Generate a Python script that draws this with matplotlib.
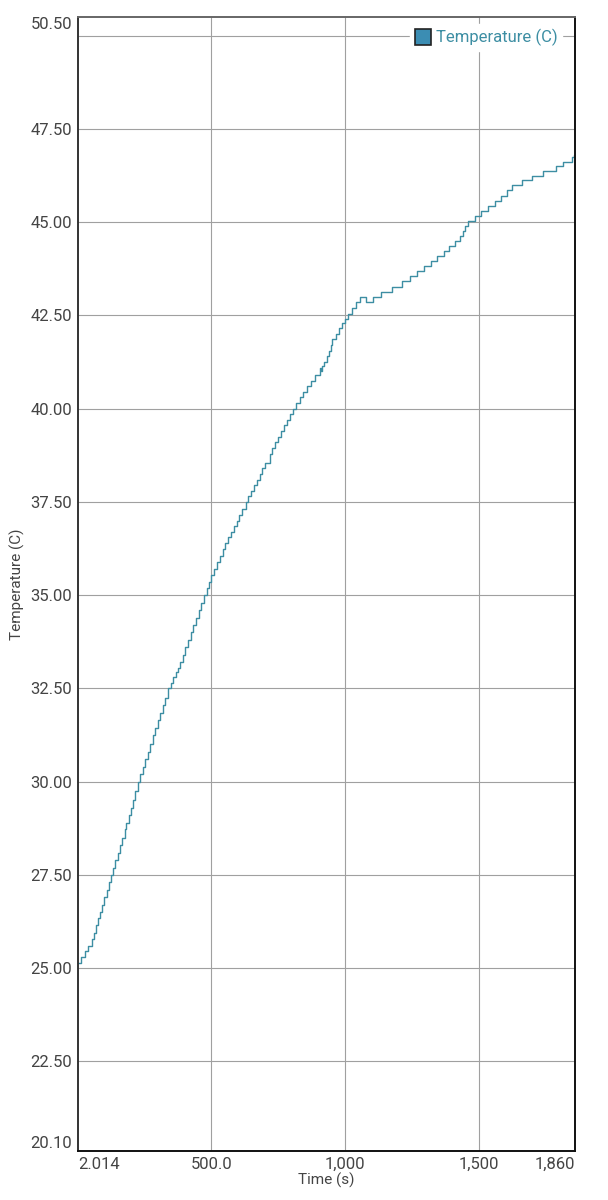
import matplotlib
matplotlib.use("Agg")
import matplotlib.pyplot as plt
from matplotlib.lines import Line2D

plt.rcParams["font.family"] = ["Roboto", "DejaVu Sans"]

# step readings (time s, temperature C)
time_s = [2, 14, 27, 40, 54, 61, 69, 78, 84, 92, 100, 109, 117, 125,
          133, 142, 150, 159, 167, 177, 183, 191, 199, 207, 216, 226,
          235, 244, 252, 262, 271, 282, 291, 300, 309, 318, 327, 338,
          348, 357, 367, 374, 383, 393, 403, 413, 423, 433, 443, 453, 462, 472,
          483, 491, 500, 510, 520, 532, 543, 553, 564, 574, 584, 595, 605, 615, 629,
          639, 650, 660, 670, 681, 691, 701, 718, 729, 740, 750, 761, 772, 783, 793, 804,
          818, 832, 845, 859, 873, 887, 905, 910, 915, 923, 932, 941, 947, 953,
          965, 977, 990, 1000, 1012, 1025, 1040, 1055, 1078, 1105, 1135, 1175, 1215,
          1245, 1270, 1295, 1320, 1345, 1370, 1390, 1410, 1430, 1440, 1450, 1460, 1485,
          1510, 1535, 1560, 1585, 1605, 1625, 1660, 1700, 1740, 1790, 1815, 1850, 1858, 1860]
temp_c = [25.15, 25.3, 25.45, 25.6, 25.77, 25.95, 26.15, 26.35, 26.5, 26.7, 26.9, 27.1, 27.3, 27.5,
          27.7, 27.9, 28.1, 28.3, 28.5, 28.73, 28.9, 29.1, 29.3, 29.5, 29.75, 30.0,
          30.2, 30.4, 30.6, 30.8, 31.0, 31.25, 31.45, 31.65, 31.85, 32.05, 32.25, 32.5,
          32.65, 32.8, 32.95, 33.05, 33.2, 33.4, 33.6, 33.8, 34.0, 34.2, 34.4, 34.6, 34.8, 35.0,
          35.2, 35.35, 35.55, 35.7, 35.9, 36.05, 36.25, 36.4, 36.55, 36.7, 36.85, 37.0, 37.15, 37.3, 37.5,
          37.65, 37.8, 37.95, 38.1, 38.25, 38.4, 38.55, 38.79, 38.95, 39.1, 39.25, 39.4, 39.55, 39.7, 39.85, 40.0,
          40.15, 40.3, 40.45, 40.6, 40.75, 40.9, 41.1, 41.0, 41.15, 41.25, 41.4, 41.55, 41.7, 41.87,
          42.0, 42.15, 42.3, 42.4, 42.55, 42.7, 42.85, 43.0, 42.87, 43.0, 43.13, 43.27, 43.43,
          43.57, 43.7, 43.83, 43.97, 44.1, 44.23, 44.37, 44.5, 44.63, 44.77, 44.9, 45.03, 45.17,
          45.3, 45.43, 45.57, 45.7, 45.85, 46.0, 46.12, 46.25, 46.36, 46.5, 46.62, 46.74, 46.8, 46.8]

y_ticks = [20.1, 22.5, 25.0, 27.5, 30.0, 32.5, 35.0, 37.5, 40.0, 42.5, 45.0, 47.5, 50.5]
y_tick_labels = ["20.10", "22.50", "25.00", "27.50", "30.00", "32.50", "35.00",
                 "37.50", "40.00", "42.50", "45.00", "47.50", "50.50"]
x_ticks = [2.014, 500, 1000, 1500, 1860]
x_tick_labels = ["2.014", "500.0", "1,000", "1,500", "1,860"]

LINE = "#3d8ea3"
TXT = "#444444"

fig = plt.figure(figsize=(6.08, 12), dpi=100)
ax = fig.add_axes([78 / 608, 1 - 1151 / 1200, (575 - 78) / 608, (1151 - 17) / 1200])

# grid
for v in [22.5, 25.0, 27.5, 30.0, 32.5, 35.0, 37.5, 40.0, 42.5, 45.0, 47.5, 50.0]:
    ax.axhline(v, color="#a0a0a0", lw=0.8, zorder=0)
for v in [500, 1000, 1500]:
    ax.axvline(v, color="#a0a0a0", lw=0.8, zorder=0)

ax.plot(time_s, temp_c, drawstyle="steps-post", color=LINE, lw=1.0, zorder=2)

ax.set_xlim(2.014, 1860)
ax.set_ylim(20.1, 50.5)

ax.set_yticks(y_ticks)
ax.set_yticklabels(y_tick_labels)
ax.set_xticks(x_ticks)
ax.set_xticklabels(x_tick_labels)
ax.tick_params(length=0, labelsize=12, labelcolor=TXT, pad=4)
xl = ax.get_xticklabels()
xl[0].set_ha("left")
xl[-1].set_ha("right")
yl = ax.get_yticklabels()
yl[0].set_va("bottom")
yl[-1].set_va("top")

ax.spines["left"].set_color("#333333")
ax.spines["top"].set_color("#666666")
ax.spines["right"].set_color("#111111")
ax.spines["bottom"].set_color("#111111")
for s in ax.spines.values():
    s.set_linewidth(1.4)

ax.set_xlabel("Time (s)", fontsize=11, color=TXT, labelpad=1)
ax.set_ylabel("Temperature (C)", fontsize=11, color=TXT, labelpad=4)

handle = Line2D([], [], marker="s", linestyle="none", markersize=11,
                markerfacecolor="#3b8db3", markeredgecolor="#222222", markeredgewidth=1.2)
leg = ax.legend([handle], ["Temperature (C)"], loc="upper right", frameon=True,
                fontsize=12, handletextpad=0.25, borderaxespad=0.7, borderpad=0.3,
                handlelength=1.0, bbox_to_anchor=(0.998, 1.004))
leg.get_frame().set_edgecolor("white")
leg.get_frame().set_facecolor("white")
leg.get_frame().set_alpha(1.0)
leg.get_texts()[0].set_color("#3d8ea3")

fig.savefig("out.png", dpi=100)
